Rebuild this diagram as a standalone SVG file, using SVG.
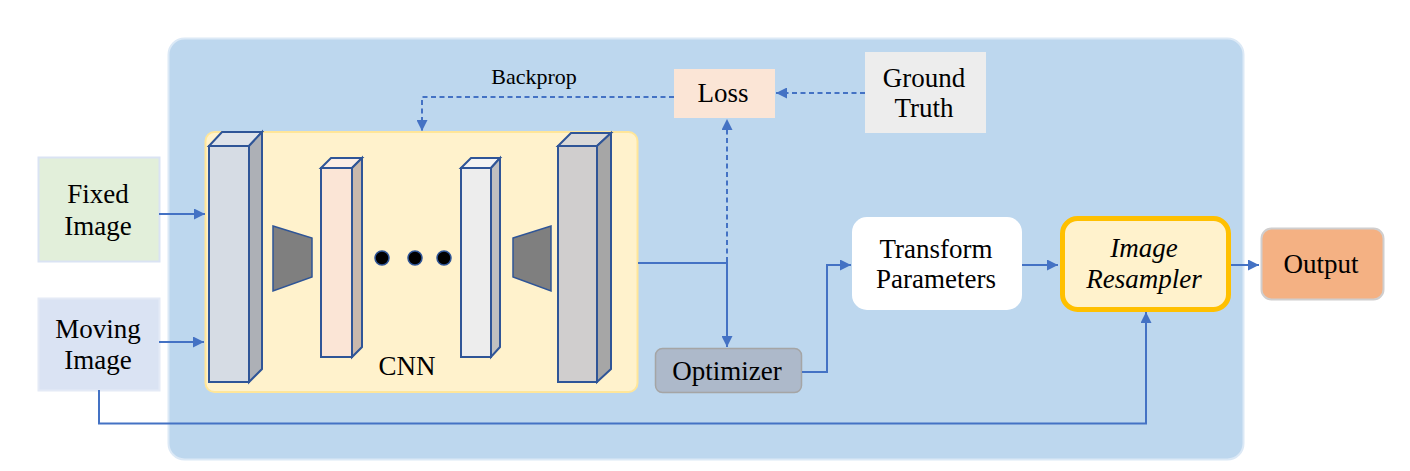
<svg xmlns="http://www.w3.org/2000/svg" width="1410" height="471" viewBox="0 0 1410 471">
<defs>
<style>
.t{font-family:'Liberation Serif','Times New Roman',serif;font-size:27px;fill:#000;text-anchor:middle}
.conn{fill:none;stroke:#4472C4;stroke-width:2}
.dash{stroke-dasharray:5 3.5}
.blk{stroke:#2F5597;stroke-width:2;stroke-linejoin:miter}
.trap{fill:#7F7F7F;stroke:#2F5597;stroke-width:1.5}
</style>
<marker id="ah" viewBox="0 0 10 10" refX="10" refY="5" markerWidth="11" markerHeight="11" markerUnits="userSpaceOnUse" orient="auto">
<path d="M0,0 L10,5 L0,10 z" fill="#4472C4"/>
</marker>
</defs>
<rect width="1410" height="471" fill="#fff"/>
<g id="panel"><rect x="168.5" y="38.5" width="1075" height="421" rx="16" fill="#BDD7EE" stroke="#DCE9F6" stroke-width="2"/></g>

<g id="cnn">
<rect x="205.5" y="132" width="432" height="260" rx="9" fill="#FFF2CC" stroke="#FFE699" stroke-width="2"/>
<polygon class="blk" points="209,146 222,132 262,132 249,146" fill="#DEE3EA"/>
<polygon class="blk" points="249,146 262,132 262,369 249,382" fill="#ADB0B6"/>
<rect class="blk" x="209" y="146" width="40" height="236" fill="#D6DCE4"/>
<polygon class="trap" points="273,226 312,238 312,277 273,291"/>
<polygon class="blk" points="321,168 331,158 362,158 352,168" fill="#FCEEE6"/>
<polygon class="blk" points="352,168 362,158 362,347 352,357" fill="#C9B8AC"/>
<rect class="blk" x="321" y="168" width="31" height="189" fill="#FBE5D6"/>
<circle cx="382" cy="258" r="7" fill="#000" stroke="#2F5597" stroke-width="1.5"/>
<circle cx="415" cy="258" r="7" fill="#000" stroke="#2F5597" stroke-width="1.5"/>
<circle cx="444" cy="258" r="7" fill="#000" stroke="#2F5597" stroke-width="1.5"/>
<polygon class="blk" points="461,168 471,158 500,158 491,168" fill="#F4F4F4"/>
<polygon class="blk" points="491,168 500,158 500,347 491,357" fill="#C0C0C0"/>
<rect class="blk" x="461" y="168" width="30" height="189" fill="#EDEDED"/>
<polygon class="trap" points="513,238 551,226 551,291 513,277"/>
<polygon class="blk" points="558,146 571,133 611,133 597,146" fill="#D9D9D9"/>
<polygon class="blk" points="597,146 611,133 611,369 597,382" fill="#A6A6A6"/>
<rect class="blk" x="558" y="146" width="39" height="236" fill="#D0CECE"/>
<text class="t" x="407" y="375">CNN</text>
</g>

<g id="fixed">
<rect x="38.5" y="157.5" width="121" height="104" fill="#E2EFDA" stroke="#DAE3F3" stroke-width="2"/>
<text class="t" x="98" y="203">Fixed</text>
<text class="t" x="98" y="235">Image</text>
</g>
<g id="moving">
<rect x="38.5" y="298.5" width="121" height="92" fill="#DAE3F3" stroke="#E4EAF6" stroke-width="2"/>
<text class="t" x="98" y="338">Moving</text>
<text class="t" x="98" y="369">Image</text>
</g>
<g id="loss">
<rect x="674" y="69" width="101" height="49" fill="#FBE5D6"/>
<text class="t" x="723" y="102">Loss</text>
</g>
<g id="ground-truth">
<rect x="865" y="52" width="121" height="81" fill="#EDEDED"/>
<text class="t" x="924" y="87">Ground</text>
<text class="t" x="924" y="117">Truth</text>
</g>
<g id="optimizer">
<rect x="655.5" y="348.5" width="146" height="44" rx="7" fill="#ADB9CA" stroke="#A5A5A5" stroke-width="1.5"/>
<text class="t" x="727" y="380">Optimizer</text>
</g>
<g id="transform">
<rect x="852" y="217" width="170" height="93" rx="15" fill="#FFFFFF"/>
<text class="t" x="936" y="258">Transform</text>
<text class="t" x="936" y="288">Parameters</text>
</g>
<g id="resampler">
<rect x="1062.5" y="218.5" width="166" height="91" rx="15" fill="#FFF2CC" stroke="#FFC000" stroke-width="5"/>
<text class="t" x="1144" y="257" font-style="italic">Image</text>
<text class="t" x="1144" y="288" font-style="italic">Resampler</text>
</g>
<g id="output">
<rect x="1261.5" y="228.5" width="122" height="71" rx="10" fill="#F4B183" stroke="#D0CECE" stroke-width="2"/>
<text class="t" x="1321" y="273">Output</text>
</g>
<text class="t" x="534" y="84" style="font-size:22px">Backprop</text>

<g id="connectors">
<path class="conn" d="M159,214 H205" marker-end="url(#ah)"/>
<path class="conn" d="M159,342 H204" marker-end="url(#ah)"/>
<path class="conn" d="M99,390 V423.5 H1146 V312" marker-end="url(#ah)"/>
<path class="conn dash" d="M674,97 H422 V131" marker-end="url(#ah)"/>
<path class="conn dash" d="M865,93 H776" marker-end="url(#ah)"/>
<path class="conn dash" d="M727,262 V119" marker-end="url(#ah)"/>
<path class="conn" d="M638,263 H727 V347" marker-end="url(#ah)"/>
<path class="conn" d="M802,372 H827 V265 H851" marker-end="url(#ah)"/>
<path class="conn" d="M1022,265 H1058" marker-end="url(#ah)"/>
<path class="conn" d="M1231,265 H1259" marker-end="url(#ah)"/>
</g>
</svg>
